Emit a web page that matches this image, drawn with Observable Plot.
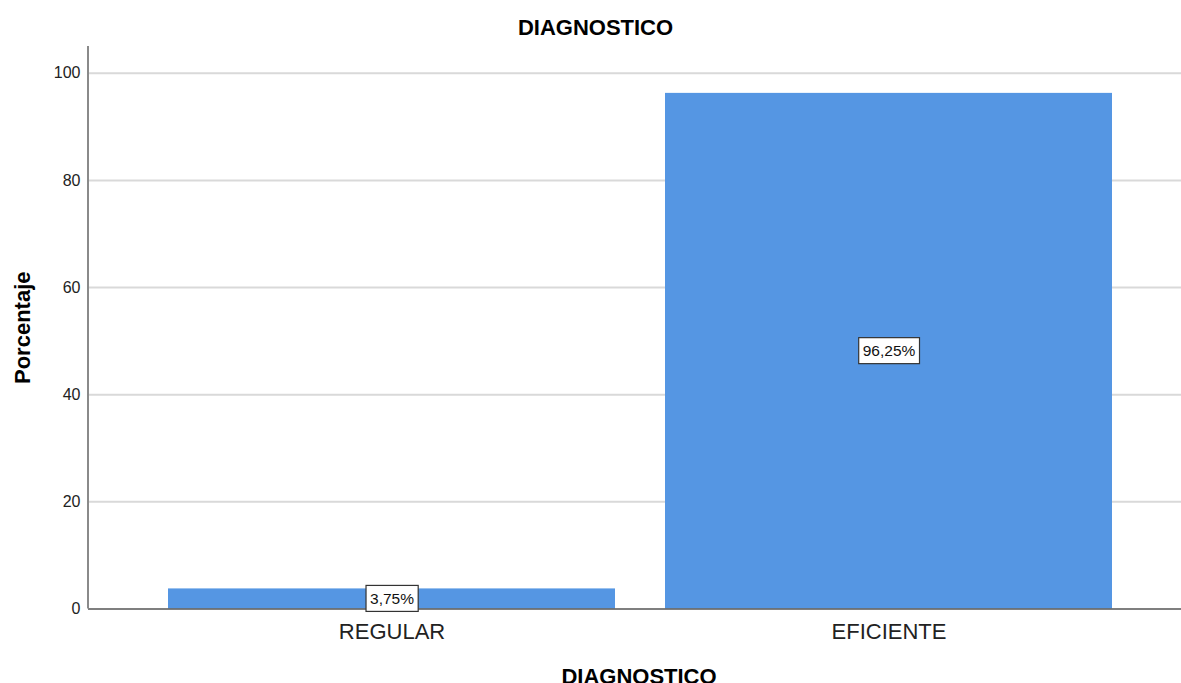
<!DOCTYPE html>
<html>
<head>
<meta charset="utf-8">
<script src="https://cdn.jsdelivr.net/npm/d3@7"></script>
<script src="https://cdn.jsdelivr.net/npm/@observablehq/plot@0.6"></script>
<style>
  html, body { margin: 0; padding: 0; background: #fff; }
  #wrap { width: 1181px; height: 683px; overflow: hidden; font-family: "Liberation Sans", Arial, sans-serif; }
  #titulo { height: 29px; padding-top: 17px; padding-left: 10px; text-align: center; font-weight: bold; font-size: 22px; line-height: 22px; color: #000; }
</style>
</head>
<body>
<div id="wrap">
  <div id="titulo"></div>
  <div id="grafico"></div>
</div>
<script>
// Distribución porcentual del diagnóstico
const titulo = "DIAGNOSTICO";
const etiquetaX = "DIAGNOSTICO";
const etiquetaY = "Porcentaje";
const categorias = ["REGULAR", "EFICIENTE"];
const porcentajes = [3.75, 96.25];
const etiquetas = ["3,75%", "96,25%"];
const ticksY = [0, 20, 40, 60, 80, 100];

const datos = categorias.map((c, i) => ({categoria: c, porcentaje: porcentajes[i], etiqueta: etiquetas[i]}));

document.getElementById("titulo").textContent = titulo;

const chart = Plot.plot({
  width: 1181,
  height: 637,
  marginTop: 0,
  marginLeft: 88,
  marginRight: 0,
  marginBottom: 74.5,
  style: {fontFamily: "'Liberation Sans', Arial, sans-serif", background: "white", overflow: "visible"},
  x: {domain: categorias, range: [88, 1192], paddingInner: 0.1, paddingOuter: 0.16},
  y: {domain: [0, 105]},
  marks: [
    Plot.ruleY(ticksY.filter(t => t > 0), {stroke: "#d9d9d9", strokeWidth: 2}),
    Plot.barY(datos, {x: "categoria", y: "porcentaje", fill: "#5596e3"}),
    Plot.ruleY([0], {stroke: "#555", strokeWidth: 1.5}),
    Plot.axisY({ticks: ticksY, tickSize: 0, tickPadding: 8, fontSize: 16, fill: "#222", label: null}),
    Plot.axisX({tickSize: 0, tickPadding: 14, fontSize: 22, fill: "#222", label: null}),
    Plot.text([etiquetaY], {text: d => d, frameAnchor: "left", textAnchor: "middle", rotate: -90, dx: -66, fontSize: 22, fontWeight: "bold", fill: "#000"}),
    Plot.text([etiquetaX], {text: d => d, frameAnchor: "bottom", lineAnchor: "top", dy: 59, dx: 4, fontSize: 22, fontWeight: "bold", fill: "#000"}),
    Plot.text(datos, {x: "categoria", y: d => d.porcentaje / 2, text: "etiqueta", fontSize: 15.5, fill: "#111"})
  ]
});

document.getElementById("grafico").appendChild(chart);

// Cajas blancas detrás de las etiquetas de valor
const ns = "http://www.w3.org/2000/svg";
Array.from(chart.querySelectorAll("text"))
  .filter(t => etiquetas.includes(t.textContent))
  .forEach(t => {
    const b = t.getBBox();
    const r = document.createElementNS(ns, "rect");
    r.setAttribute("x", b.x - 4);
    r.setAttribute("y", b.y - 4.5);
    r.setAttribute("width", b.width + 8);
    r.setAttribute("height", b.height + 9);
    r.setAttribute("fill", "white");
    r.setAttribute("stroke", "#333");
    r.setAttribute("stroke-width", 1.2);
    const tr = t.getAttribute("transform");
    if (tr) r.setAttribute("transform", tr);
    t.parentNode.insertBefore(r, t);
  });

// Línea del eje vertical
const y = chart.scale("y");
const [y0, y1] = y.range;
const eje = document.createElementNS(ns, "line");
eje.setAttribute("x1", 88);
eje.setAttribute("x2", 88);
eje.setAttribute("y1", Math.min(y0, y1));
eje.setAttribute("y2", Math.max(y0, y1));
eje.setAttribute("stroke", "#8a8a8a");
eje.setAttribute("stroke-width", 2);
chart.appendChild(eje);
</script>
</body>
</html>
